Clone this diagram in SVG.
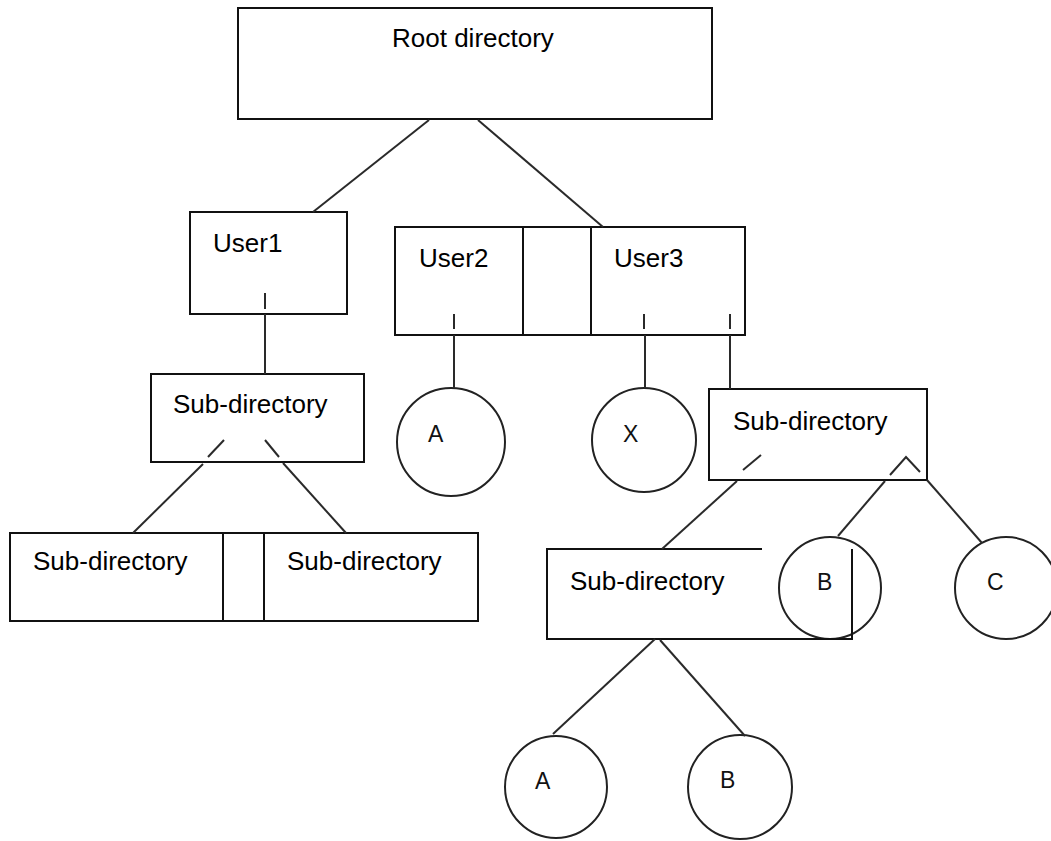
<svg xmlns="http://www.w3.org/2000/svg" width="1051" height="841" viewBox="0 0 1051 841">
<style>
.box{fill:#fff;stroke:#111;stroke-width:2}
.shape{fill:none;stroke:#111;stroke-width:2}
.circ{fill:#fff;stroke:#222;stroke-width:2}
.lbl{font-family:"Liberation Sans",Arial,sans-serif;font-size:26px;fill:#000}
.let{font-family:"Liberation Sans",Arial,sans-serif;font-size:23px;fill:#111}
#connectors line,#connectors polyline{stroke:#2a2a2a;stroke-width:2;fill:none}
</style>
<rect width="1051" height="841" fill="#fff"/>
<g id="root">
<rect class="box" x="238" y="8" width="474" height="111"/>
<text class="lbl" x="392" y="47">Root directory</text>
</g>
<g id="user1">
<rect class="box" x="190" y="212" width="157" height="102"/>
<text class="lbl" x="213" y="252">User1</text>
</g>
<g id="user2">
<rect class="box" x="395" y="227" width="128" height="108"/>
<text class="lbl" x="419" y="267">User2</text>
</g>
<g id="spacer-users">
<rect class="box" x="523" y="227" width="68" height="108"/>
</g>
<g id="user3">
<rect class="box" x="591" y="227" width="154" height="108"/>
<text class="lbl" x="614" y="267">User3</text>
</g>
<g id="subdir-user1">
<rect class="box" x="151" y="374" width="213" height="88"/>
<text class="lbl" x="173" y="413">Sub-directory</text>
</g>
<g id="subdir-left-a">
<rect class="box" x="10" y="533" width="213" height="88"/>
<text class="lbl" x="33" y="570">Sub-directory</text>
</g>
<g id="spacer-subdirs">
<rect class="box" x="223" y="533" width="41" height="88"/>
</g>
<g id="subdir-left-b">
<rect class="box" x="264" y="533" width="214" height="88"/>
<text class="lbl" x="287" y="570">Sub-directory</text>
</g>
<g id="file-a-user2">
<circle class="circ" cx="451" cy="442" r="54"/>
<text class="let" x="428" y="442">A</text>
</g>
<g id="file-x-user3">
<circle class="circ" cx="644" cy="440" r="52"/>
<text class="let" x="623" y="442">X</text>
</g>
<g id="subdir-user3">
<rect class="box" x="709" y="389" width="218" height="91"/>
<text class="lbl" x="733" y="430">Sub-directory</text>
</g>
<g id="file-b-subdir">
<circle class="circ" cx="830" cy="588" r="51"/>
<text class="let" x="817" y="590">B</text>
</g>
<g id="subdir-nested">
<path class="shape" d="M762,549 H547 V639 H852 V549"/>
<text class="lbl" x="570" y="590">Sub-directory</text>
</g>
<g id="file-c">
<circle class="circ" cx="1006" cy="588" r="51"/>
<text class="let" x="987" y="590">C</text>
</g>
<g id="file-a-nested">
<circle class="circ" cx="556" cy="787" r="51"/>
<text class="let" x="535" y="789">A</text>
</g>
<g id="file-b-nested">
<circle class="circ" cx="740" cy="787" r="52"/>
<text class="let" x="720" y="788">B</text>
</g>
<g id="connectors">
<line x1="429" y1="120" x2="313" y2="212"/>
<line x1="478" y1="120" x2="603" y2="227"/>
<line x1="265" y1="293" x2="265" y2="309"/>
<line x1="265" y1="314" x2="265" y2="374"/>
<line x1="454" y1="314" x2="454" y2="329"/>
<line x1="454" y1="335" x2="454" y2="388"/>
<line x1="644" y1="314" x2="644" y2="329"/>
<line x1="645" y1="335" x2="645" y2="388"/>
<line x1="730" y1="314" x2="730" y2="329"/>
<line x1="730" y1="335" x2="730" y2="389"/>
<line x1="224" y1="440" x2="208" y2="457"/>
<line x1="203" y1="464" x2="133" y2="533"/>
<line x1="265" y1="440" x2="279" y2="457"/>
<line x1="283" y1="463" x2="346" y2="533"/>
<line x1="761" y1="455" x2="743" y2="470"/>
<line x1="737" y1="481" x2="662" y2="549"/>
<polyline points="890,475 906,457 920,472"/>
<line x1="885" y1="481" x2="838" y2="536"/>
<line x1="927" y1="480" x2="982" y2="543"/>
<line x1="655" y1="639" x2="553" y2="734"/>
<line x1="660" y1="640" x2="745" y2="736"/>
</g>
</svg>
